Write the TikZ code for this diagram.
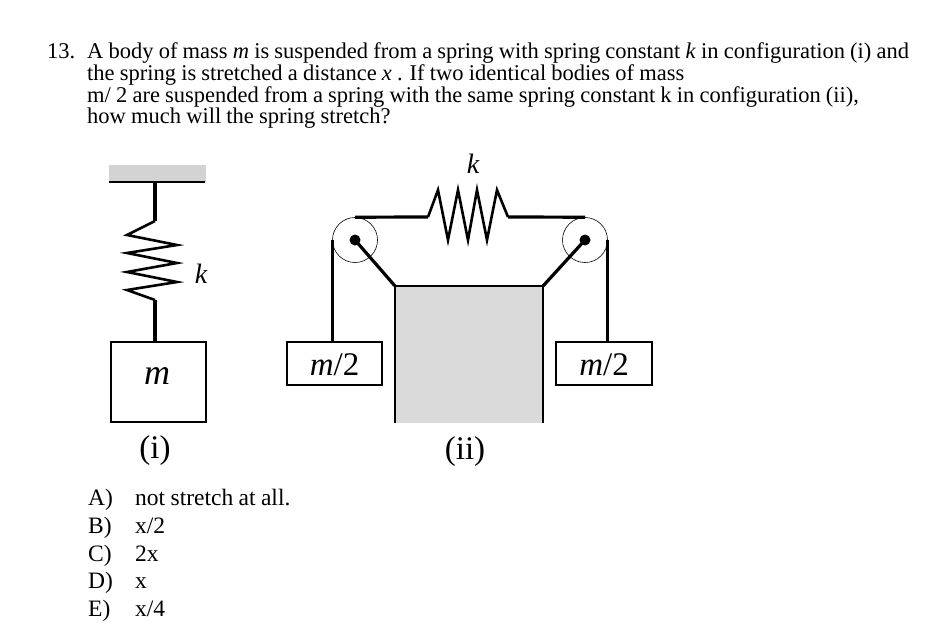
\documentclass[tikz,border=0pt]{standalone}
\usepackage{fontspec}
\setmainfont{Liberation Serif}[WordSpace=0.92]
\begin{document}
\begin{tikzpicture}[x=1pt,y=-1pt,
  txt/.style={anchor=base west, inner sep=0pt, font=\fontsize{22.5}{25}\selectfont},
  ans/.style={anchor=base west, inner sep=0pt, font=\fontsize{23.5}{26}\selectfont},
  lbl/.style={anchor=base, inner sep=0pt, font=\fontsize{33}{35}\selectfont},
  klbl/.style={anchor=base, inner sep=0pt, font=\fontsize{28}{30}\selectfont\itshape},
  massbox/.style={draw, line width=2pt, fill=white, inner sep=0pt},
  rope/.style={line width=3.2pt},
  wire/.style={line width=4pt},
  coil/.style={line width=2.6pt, line join=miter},
  pulley/.style={circle, draw, line width=0.6pt, inner sep=0pt, minimum size=45pt},
]
\definecolor{ceilgray}{HTML}{D3D3D3}
\definecolor{blockgray}{HTML}{DADADA}
\useasboundingbox (0,0) rectangle (928,638);
\fill[white] (0,0) rectangle (928,638);

% ---------- question text ----------
\node[txt] (num) at (47,58) {13.};
\node[txt] (q1) at (87,58) {A body of mass \textit{m} is suspended from a spring with spring constant \textit{k} in configuration (i) and};
\node[txt] (q2) at (87,80) {the spring is stretched a distance \textit{x} . If two identical bodies of mass};
\node[txt] (q3) at (87,102) {m/ 2 are suspended from a spring with the same spring constant k in configuration (ii),};
\node[txt] (q4) at (87,123) {how much will the spring stretch?};

% ---------- configuration (i) ----------
\fill[ceilgray] (109,165) rectangle (206,182);
\draw[line width=2.6pt] (109,182) -- (205,182);
\coordinate (ceil) at (155,182);
\node[massbox, minimum width=95pt, minimum height=80pt] (mi) at (158.5,382) {};
\node[lbl, font=\fontsize{36}{38}\selectfont\itshape] (mlab) at (157,384) {m};
\coordinate (s1top) at (155,221);
\coordinate (s1bot) at (155,300);
\draw[wire] (ceil) -- (s1top);
\draw[coil] (s1top) -- (127,235) -- (177,245) -- (127,253) -- (177,263) -- (127,272) -- (177,282) -- (127,290) -- (s1bot);
\draw[wire] (s1bot) -- (mi.north -| s1bot);
\node[klbl] (k1) at (201,283) {k};
\node[lbl] (c1) at (155,458) {(i)};

% ---------- configuration (ii) ----------
\node[fill=blockgray, minimum width=148pt, minimum height=137pt, inner sep=0pt] (blk) at (469,354.5) {};
\draw[line width=2.2pt] (blk.south west) -- (blk.north west) -- (blk.north east) -- (blk.south east);

\node[pulley] (pl) at (355,240) {};
\node[pulley] (pr) at (585,240) {};

\node[massbox, minimum width=95pt, minimum height=43pt] (lb) at (334.5,363.5) {};
\node[massbox, minimum width=96pt, minimum height=43pt] (rb) at (604,363.5) {};
\node[lbl] (lm) at (334.5,375) {\textit{m}/2};
\node[lbl] (rm) at (604,375) {\textit{m}/2};

\draw[rope] (pl.west) -- (pl.west |- lb.north);
\draw[rope] (pr.east) -- (pr.east |- rb.north);
\draw[rope] (pl.center) -- (blk.north west);
\draw[rope] (pr.center) -- (blk.north east);
\fill (pl.center) circle (5.5);
\fill (pr.center) circle (5.5);

\coordinate (s2l) at (428,217);
\coordinate (s2r) at (508,217);
\draw[rope] (pl.north) -- (s2l);
\draw[coil] (s2l) -- (438,190) -- (448,240) -- (458,190) -- (468,240) -- (477,190) -- (487,240) -- (497,190) -- (s2r);
\draw[rope] (s2r) -- (pr.north);
\node[klbl] (k2) at (473,173) {k};
\node[lbl] (c2) at (465,459) {(ii)};

% ---------- answers ----------
\node[ans] (la) at (88,505) {A)};
\node[ans] (ta) at (135,505) {not stretch at all.};
\node[ans] (lb2) at (88,533) {B)};
\node[ans] (tb) at (135,533) {x/2};
\node[ans] (lc) at (88,561) {C)};
\node[ans] (tc) at (135,561) {2x};
\node[ans] (ld) at (88,588) {D)};
\node[ans] (td) at (135,588) {x};
\node[ans] (le) at (88,616) {E)};
\node[ans] (te) at (135,616) {x/4};
\end{tikzpicture}
\end{document}
